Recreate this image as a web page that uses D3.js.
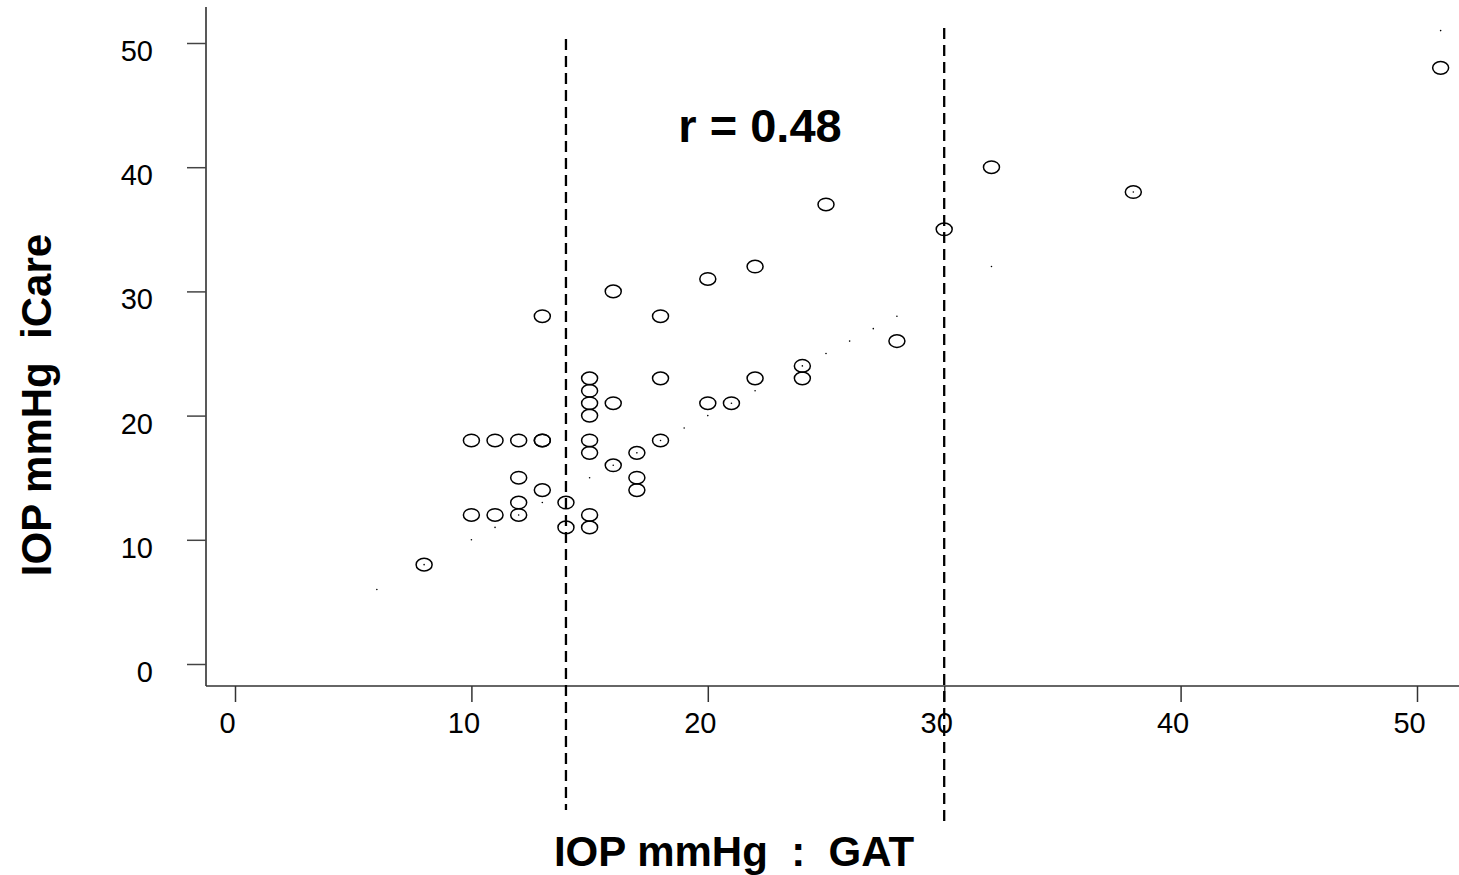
<!DOCTYPE html>
<html>
<head>
<meta charset="utf-8">
<script src="https://cdn.jsdelivr.net/npm/d3@7"></script>
<style>
  body { margin: 0; background: #fff; }
  text { font-family: "Liberation Sans", Arial, sans-serif; }
</style>
</head>
<body>
<svg id="chart" width="1459" height="875"></svg>
<script>
// GAT vs iCare readings (mmHg)
var gat   = [8, 10, 11, 12, 10, 11, 12, 13, 13, 12, 12, 13, 13, 14, 14, 15, 15, 15, 15, 15, 15, 15, 15,
             16, 16, 16, 17, 17, 17, 18, 18, 18, 20, 20, 21, 22, 22, 24, 24, 25, 28, 30, 32, 38, 51];
var icare = [8, 12, 12, 12, 18, 18, 18, 18, 18, 15, 13, 14, 28, 13, 11, 12, 11, 23, 22, 21, 20, 18, 17,
             21, 16, 30, 17, 15, 14, 28, 23, 18, 31, 21, 21, 32, 23, 24, 23, 37, 26, 35, 40, 38, 48];
// small dots along identity line
var identity = [6, 8, 10, 11, 12, 13, 15, 16, 17, 18, 19, 20, 21, 22, 24, 25, 26, 27, 28, 32, 38, 51];
var xTicks = [0, 10, 20, 30, 40, 50];
var yTicks = [0, 10, 20, 30, 40, 50];
var cutoffs = [14, 30];

var svg = d3.select("#chart");

var x = d3.scaleLinear().domain([0, 50]).range([235, 1417]);
var y = d3.scaleLinear().domain([0, 50]).range([664, 43]);

// axis lines
svg.append("line")
    .attr("x1", 206).attr("x2", 206).attr("y1", 7).attr("y2", 686)
    .attr("stroke", "#222").attr("stroke-width", 1.5);
svg.append("line")
    .attr("x1", 206).attr("x2", 1459).attr("y1", 686).attr("y2", 686)
    .attr("stroke", "#333").attr("stroke-width", 1.5);

// x axis
var xAxis = d3.axisBottom(x).tickValues(xTicks).tickSize(16).tickSizeOuter(0);
var gx = svg.append("g")
    .attr("transform", "translate(0,686)")
    .call(xAxis);
gx.select(".domain").remove();
gx.selectAll("line").attr("stroke", "#333").attr("stroke-width", 1.5);
gx.selectAll("text")
    .attr("font-size", 29)
    .attr("fill", "#000")
    .attr("dy", 0)
    .attr("y", 47)
    .attr("dx", -8);

// y axis
var yAxis = d3.axisLeft(y).tickValues(yTicks).tickSize(19).tickSizeOuter(0);
var gy = svg.append("g")
    .attr("transform", "translate(206,0)")
    .call(yAxis);
gy.select(".domain").remove();
gy.selectAll("line").attr("stroke", "#444").attr("stroke-width", 1.5);
gy.selectAll("text")
    .attr("font-size", 29)
    .attr("fill", "#000")
    .attr("x", -53)
    .attr("dy", "0.6em");

// dashed cutoff lines
svg.selectAll(".cut")
    .data(cutoffs)
    .enter()
    .append("line")
    .attr("class", "cut")
    .attr("x1", d => x(d)).attr("x2", d => x(d))
    .attr("y1", (d, i) => i == 0 ? 39 : 28)
    .attr("y2", (d, i) => i == 0 ? 810 : 826)
    .attr("stroke", "#000")
    .attr("stroke-width", 2.3)
    .attr("stroke-dasharray", "11,6");

// identity dots
svg.selectAll(".dot")
    .data(identity)
    .enter()
    .append("circle")
    .attr("class", "dot")
    .attr("cx", d => x(d))
    .attr("cy", d => y(d))
    .attr("r", 0.8)
    .attr("fill", "#000");

// observations
svg.selectAll(".pt")
    .data(gat.map((g, i) => ({ g: g, c: icare[i] })))
    .enter()
    .append("ellipse")
    .attr("class", "pt")
    .attr("cx", d => x(d.g))
    .attr("cy", d => y(d.c))
    .attr("rx", 8)
    .attr("ry", 6.3)
    .attr("fill", "none")
    .attr("stroke", "#000")
    .attr("stroke-width", 1.5);

// labels
svg.append("text")
    .attr("x", 760).attr("y", 142)
    .attr("text-anchor", "middle")
    .attr("font-size", 47)
    .attr("font-weight", "bold")
    .text("r = 0.48");

svg.append("text")
    .attr("x", 734).attr("y", 866)
    .attr("text-anchor", "middle")
    .attr("font-size", 42)
    .attr("font-weight", "bold")
    .style("white-space", "pre")
    .text("IOP mmHg  :  GAT");

svg.append("text")
    .attr("transform", "translate(51,405) rotate(-90)")
    .attr("text-anchor", "middle")
    .attr("font-size", 42)
    .attr("font-weight", "bold")
    .style("white-space", "pre")
    .text("IOP mmHg  iCare");
</script>
</body>
</html>
